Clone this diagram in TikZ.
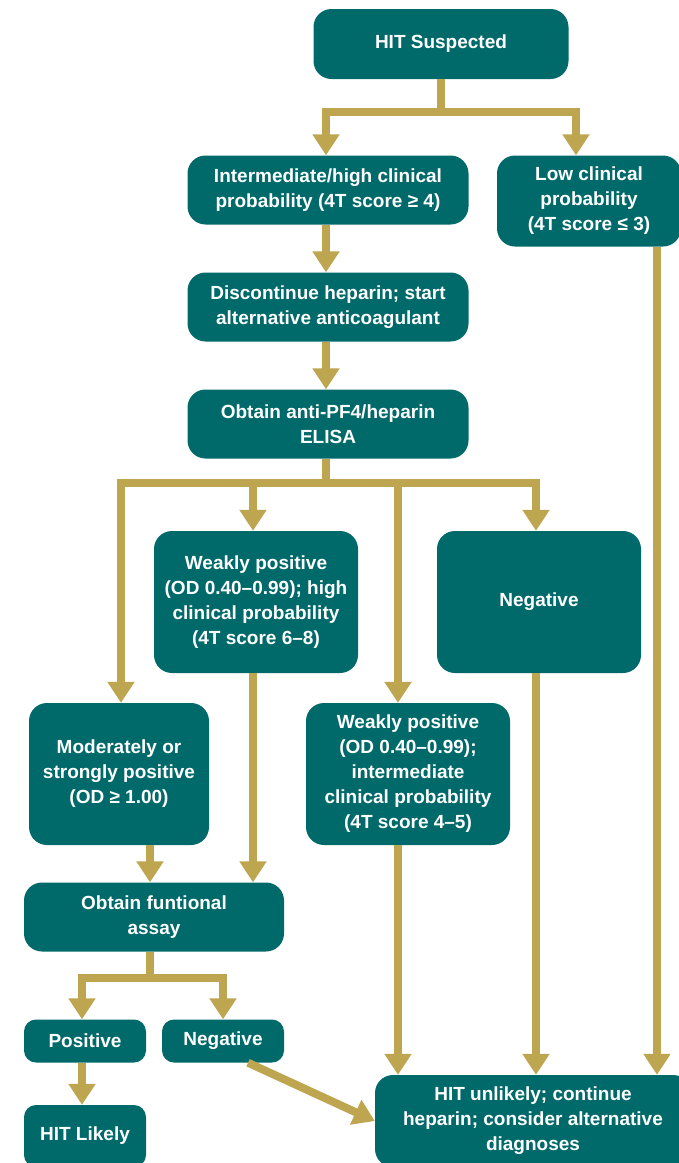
\documentclass[tikz,border=0pt]{standalone}
\usepackage{fontspec}
\setmainfont{Liberation Sans}
\usetikzlibrary{arrows.meta}
\definecolor{hitteal}{RGB}{0,105,106}
\definecolor{hitgold}{RGB}{190,165,80}

\tikzset{
  box/.style={fill=hitteal, rounded corners=18pt, text=white, align=center, inner sep=0pt,
    font=\bfseries\fontsize{19}{25}\selectfont},
  smallbox/.style={box, rounded corners=12pt, minimum width=122pt},
  link/.style={draw=hitgold, line width=8pt},
  arrow/.style={link, -{Triangle[width=26pt,length=21pt]}},
}

\begin{document}
\begin{tikzpicture}[x=1pt, y=-1pt]
  \fill[white] (0,0) rectangle (679,1163);
  \useasboundingbox (0,0) rectangle (679,1163);

  % boxes
  \node[box, minimum width=255pt, minimum height=70pt] (susp) at (441,44) {HIT Suspected};
  \node[box, minimum width=281pt, minimum height=69pt] (inthigh) at (328,190) {Intermediate/high clinical\\probability (4T score ≥ 4)};
  \node[box, minimum width=184pt, minimum height=91pt] (low) at (589,201) {Low clinical\\probability\\(4T score ≤ 3)};
  \node[box, minimum width=281pt, minimum height=69pt] (disc) at (328,307) {Discontinue heparin; start\\alternative anticoagulant};
  \node[box, minimum width=281pt, minimum height=69pt] (elisa) at (328,424) {Obtain anti-PF4/heparin\\ELISA};
  \node[box, minimum width=204pt, minimum height=142pt] (weakhigh) at (256,602) {Weakly positive\\(OD 0.40–0.99); high\\clinical probability\\(4T score 6–8)};
  \node[box, minimum width=204pt, minimum height=142pt] (neg) at (539,602) {Negative};
  \node[box, minimum width=180pt, minimum height=142pt] (mod) at (119,774) {Moderately or\\strongly positive\\(OD ≥ 1.00)};
  \node[box, minimum width=204pt, minimum height=142pt] (weakint) at (408,774) {Weakly positive\\(OD 0.40–0.99);\\intermediate\\clinical probability\\(4T score 4–5)};
  \node[box, minimum width=260pt, minimum height=69pt] (func) at (154,917) {Obtain funtional\\assay};
  \node[smallbox, minimum height=43pt] (pos) at (85,1041) {Positive};
  \node[smallbox, minimum height=43pt] (fneg) at (223,1041) {Negative};
  \node[smallbox, minimum height=62pt] (likely) at (85,1136) {HIT Likely};
  \node[box, minimum width=316pt, minimum height=92pt] (unlikely) at (533,1121) {HIT unlikely; continue\\heparin; consider alternative\\diagnoses};

  % first split
  \coordinate (j1) at (441,112);
  \draw[link] (susp.south) -- (j1);
  \draw[arrow] (j1) -| ([xshift=-2pt]inthigh.north);
  \draw[arrow] (j1) -| ([xshift=-13pt]low.north);
  \draw[arrow] ([xshift=-2pt]inthigh.south) -- ([xshift=-2pt]disc.north);
  \draw[arrow] ([xshift=-2pt]disc.south) -- ([xshift=-2pt]elisa.north);

  % ELISA results
  \coordinate (j2) at (326,483);
  \draw[link] ([xshift=-2pt]elisa.south) -- (j2);
  \draw[arrow] (j2) -| ([xshift=2pt]mod.north);
  \draw[arrow] (j2) -| ([xshift=-3pt]weakhigh.north);
  \draw[arrow] (j2) -| ([xshift=-10pt]weakint.north);
  \draw[arrow] (j2) -| ([xshift=-3pt]neg.north);

  % functional assay
  \coordinate (wh) at ([xshift=-3pt]weakhigh.south);
  \draw[arrow] ([xshift=31pt]mod.south) -- ([xshift=-4pt]func.north);
  \draw[arrow] (wh) -- (wh |- func.north);
  \coordinate (j3) at (150,978);
  \draw[link] ([xshift=-4pt]func.south) -- (j3);
  \draw[arrow] (j3) -| ([xshift=-3pt]pos.north);
  \draw[arrow] (j3) -| (fneg.north);
  \draw[arrow] ([xshift=-3pt]pos.south) -- ([xshift=-3pt]likely.north);

  % into HIT unlikely
  \coordinate (wi) at ([xshift=-10pt]weakint.south);
  \coordinate (ng) at ([xshift=-3pt]neg.south);
  \coordinate (lw) at ([xshift=68pt]low.south);
  \draw[arrow] (wi) -- (wi |- unlikely.north);
  \draw[arrow] (ng) -- (ng |- unlikely.north);
  \draw[arrow] (lw) -- (lw |- unlikely.north);
  \draw[arrow] ([xshift=25pt]fneg.south) -- (unlikely.west);
\end{tikzpicture}
\end{document}
